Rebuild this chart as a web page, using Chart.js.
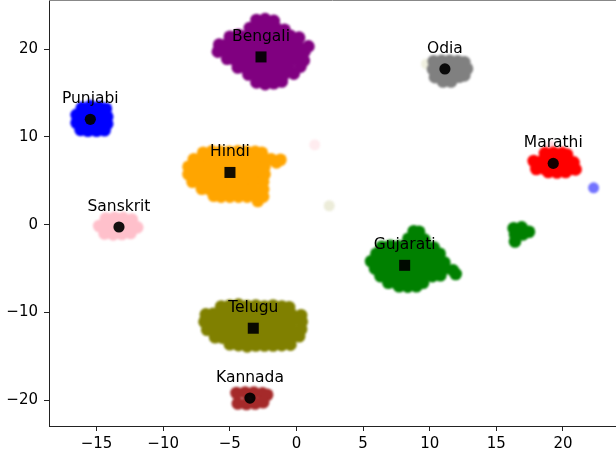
<!DOCTYPE html>
<html>
<head>
<meta charset="utf-8">
<script src="https://cdn.jsdelivr.net/npm/chart.js@4.4.1/dist/chart.umd.min.js"></script>
<style>
  html, body { margin: 0; padding: 0; background: #fff; overflow: hidden; }
  #wrap { width: 616px; height: 459px; }
</style>
</head>
<body>
<div id="wrap"><canvas id="c" width="616" height="459"></canvas></div>
<script>
// ---- axis ticks ----
const xTicks = [-15, -10, -5, 0, 5, 10, 15, 20];
const yTicks = [-20, -10, 0, 10, 20];

// ---- language centroids ----
const languages = ['Bengali', 'Punjabi', 'Hindi', 'Sanskrit', 'Odia', 'Marathi', 'Gujarati', 'Telugu', 'Kannada'];
const centroidX = [-2.66, -15.47, -4.99, -13.32, 11.14, 19.27, 8.12, -3.24, -3.49];
const centroidY = [19.1, 12.0, 5.95, -0.26, 17.73, 6.98, -4.62, -11.78, -19.73];

// ---- embedded sentences per language (2-D projection) ----
const bengaliPoints = [
  [-3.0, 23.3], [-2.35, 23.4], [-1.7, 23.2],
  [-3.5, 22.4], [-2.85, 22.4], [-2.2, 22.4], [-1.55, 22.4], [-0.9, 22.2],
  [-5.0, 21.4], [-4.35, 21.6], [-3.7, 21.5], [-3.05, 21.5], [-2.4, 21.5], [-1.75, 21.5], [-1.1, 21.5], [-0.45, 21.5], [0.2, 21.3],
  [-5.8, 20.5], [-5.15, 20.6], [-4.5, 20.6], [-3.85, 20.6], [-3.2, 20.6], [-2.55, 20.6], [-1.9, 20.6], [-1.25, 20.6], [-0.6, 20.6], [0.05, 20.6], [0.9, 20.3],
  [-5.9, 19.7], [-5.25, 19.7], [-4.6, 19.7], [-3.95, 19.7], [-3.3, 19.7], [-2.65, 19.7], [-2.0, 19.7], [-1.35, 19.7], [-0.7, 19.7], [-0.05, 19.7], [0.6, 19.7],
  [-5.2, 18.9], [-4.65, 18.8], [-4.0, 18.8], [-3.35, 18.8], [-2.7, 18.8], [-2.05, 18.8], [-1.4, 18.8], [-0.75, 18.8], [-0.1, 18.8], [0.55, 18.7],
  [-4.4, 17.9], [-3.85, 17.9], [-3.2, 17.9], [-2.55, 17.9], [-1.9, 17.9], [-1.25, 17.9], [-0.6, 17.9], [0.3, 18.0],
  [-3.6, 17.1], [-2.95, 17.0], [-2.3, 17.0], [-1.65, 17.0], [-1.0, 17.0], [-0.2, 17.2],
  [-3.0, 16.2], [-2.35, 16.0], [-1.7, 16.1], [-1.1, 16.3]
];
const punjabiPoints = [
  [-16.1, 13.3], [-15.45, 13.5], [-14.8, 13.4], [-14.3, 13.2],
  [-16.5, 12.5], [-15.85, 12.5], [-15.2, 12.5], [-14.55, 12.5], [-14.2, 12.3],
  [-16.5, 11.6], [-15.85, 11.6], [-15.2, 11.6], [-14.55, 11.6], [-14.2, 11.5],
  [-16.2, 10.8], [-15.65, 10.7], [-15.0, 10.7], [-14.4, 10.75]
];
const hindiPoints = [
  [-7.0, 8.2], [-6.35, 8.35], [-5.7, 8.3], [-5.05, 8.3], [-4.4, 8.35], [-3.75, 8.3], [-3.1, 8.3], [-2.6, 8.2],
  [-7.7, 7.45], [-7.15, 7.45], [-6.5, 7.45], [-5.85, 7.45], [-5.2, 7.45], [-4.55, 7.45], [-3.9, 7.45], [-3.25, 7.45], [-2.6, 7.45], [-1.9, 7.45], [-1.2, 7.4],
  [-8.1, 6.6], [-7.45, 6.6], [-6.8, 6.6], [-6.15, 6.6], [-5.5, 6.6], [-4.85, 6.6], [-4.2, 6.6], [-3.55, 6.6], [-2.9, 6.6], [-2.4, 6.6], [-1.5, 7.1],
  [-8.1, 5.75], [-7.45, 5.75], [-6.8, 5.75], [-6.15, 5.75], [-5.5, 5.75], [-4.85, 5.75], [-4.2, 5.75], [-3.55, 5.75], [-2.9, 5.75], [-2.4, 5.75],
  [-7.8, 4.9], [-7.15, 4.9], [-6.5, 4.9], [-5.85, 4.9], [-5.2, 4.9], [-4.55, 4.9], [-3.9, 4.9], [-3.25, 4.9], [-2.5, 4.9],
  [-7.1, 4.1], [-6.55, 4.05], [-5.9, 4.05], [-5.25, 4.05], [-4.6, 4.05], [-3.95, 4.05], [-3.3, 4.05], [-2.5, 4.05],
  [-6.2, 3.3], [-5.65, 3.2], [-5.0, 3.2], [-4.35, 3.2], [-3.7, 3.2], [-3.05, 3.2], [-2.5, 3.2],
  [-2.9, 2.7]
];
const sanskritPoints = [
  [-14.3, 0.7], [-13.65, 0.8], [-13.0, 0.75], [-12.35, 0.6],
  [-14.8, -0.15], [-14.15, -0.15], [-13.5, -0.15], [-12.85, -0.15], [-12.2, -0.15], [-11.95, -0.3],
  [-14.4, -1.0], [-13.75, -1.1], [-13.1, -1.05], [-12.45, -0.95]
];
const odiaPoints = [
  [10.3, 18.6], [10.9, 18.65], [11.5, 18.65], [12.1, 18.6], [12.6, 18.5],
  [10.25, 17.7], [10.9, 17.7], [11.5, 17.7], [12.1, 17.7], [12.8, 17.75],
  [10.4, 16.8], [11.0, 16.8], [11.6, 16.8], [12.2, 16.85], [12.6, 17.0],
  [11.0, 16.3], [11.6, 16.3]
];
const marathiPoints = [
  [18.65, 8.15], [19.3, 8.2], [19.95, 8.15], [20.3, 8.0],
  [17.8, 7.25], [18.45, 7.25], [19.1, 7.25], [19.75, 7.25], [20.4, 7.25], [20.8, 7.1],
  [18.0, 6.35], [18.65, 6.35], [19.3, 6.35], [19.95, 6.35], [20.6, 6.35], [20.95, 6.3],
  [18.9, 6.0], [19.55, 5.95], [20.2, 6.0]
];
const gujaratiPoints = [
  [8.8, -0.75], [9.2, -0.8],
  [8.4, -1.6], [9.05, -1.6], [9.6, -1.7],
  [6.4, -2.5], [7.05, -2.4], [7.7, -2.45], [8.35, -2.45], [9.0, -2.45], [9.65, -2.45], [10.3, -2.6],
  [6.0, -3.3], [6.6, -3.3], [7.2, -3.3], [7.8, -3.3], [8.4, -3.3], [9.0, -3.3], [9.6, -3.3], [10.25, -3.3], [10.75, -3.3],
  [5.6, -4.15], [6.25, -4.15], [6.9, -4.15], [7.55, -4.15], [8.2, -4.15], [8.85, -4.15], [9.5, -4.15], [10.15, -4.15], [10.8, -4.15], [11.1, -4.3],
  [5.9, -5.0], [6.55, -5.0], [7.2, -5.0], [7.85, -5.0], [8.5, -5.0], [9.15, -5.0], [9.8, -5.0], [10.45, -5.0], [11.1, -5.0], [11.75, -5.2],
  [6.3, -5.85], [6.95, -5.85], [7.6, -5.85], [8.25, -5.85], [8.9, -5.85], [9.55, -5.85], [10.2, -5.85], [10.8, -5.75], [11.95, -5.6],
  [6.9, -6.6], [7.55, -6.7], [8.2, -6.7], [8.85, -6.7], [9.5, -6.6],
  [7.7, -7.0], [8.35, -7.05], [9.0, -7.0],
  [16.3, -0.4], [16.9, -0.3], [17.45, -0.8], [16.4, -1.1], [17.0, -1.1], [16.4, -1.9]
];
const teluguPoints = [
  [-5.65, -9.3], [-5.0, -9.2], [-4.35, -9.1], [-3.7, -9.25], [-3.05, -9.2], [-2.4, -9.3], [-1.75, -9.2], [-1.1, -9.3], [-0.55, -9.4],
  [-6.8, -10.2], [-6.25, -10.15], [-5.6, -10.15], [-4.95, -10.15], [-4.3, -10.15], [-3.65, -10.15], [-3.0, -10.15], [-2.35, -10.15], [-1.7, -10.15], [-1.05, -10.15], [-0.4, -10.15], [0.35, -10.3],
  [-6.9, -11.05], [-6.25, -11.05], [-5.6, -11.05], [-4.95, -11.05], [-4.3, -11.05], [-3.65, -11.05], [-3.0, -11.05], [-2.35, -11.05], [-1.7, -11.05], [-1.05, -11.05], [-0.4, -11.05], [0.4, -11.05],
  [-6.7, -11.95], [-6.15, -11.95], [-5.5, -11.95], [-4.85, -11.95], [-4.2, -11.95], [-3.55, -11.95], [-2.9, -11.95], [-2.25, -11.95], [-1.6, -11.95], [-0.95, -11.95], [-0.3, -11.95], [0.35, -11.9],
  [-6.1, -12.8], [-5.55, -12.85], [-4.9, -12.85], [-4.25, -12.85], [-3.6, -12.85], [-2.95, -12.85], [-2.3, -12.85], [-1.65, -12.85], [-1.0, -12.85], [-0.35, -12.85], [0.2, -12.7],
  [-5.0, -13.6], [-4.35, -13.7], [-3.7, -13.85], [-3.05, -13.75], [-2.4, -13.75], [-1.75, -13.75], [-1.1, -13.7], [-0.45, -13.65]
];
const kannadaPoints = [
  [-4.5, -19.15], [-3.85, -19.1], [-3.2, -19.1], [-2.55, -19.2], [-2.2, -19.35],
  [-4.4, -20.35], [-3.75, -20.4], [-3.1, -20.35], [-2.5, -20.2]
];
// isolated sentences lying away from their language group
const strayPoints = [[22.3, 4.2], [1.37, 9.1], [2.46, 2.16], [9.75, 18.3], [19.1, 8.9]];

// ---- styling ----
const FONT = 'DejaVu Sans';
const INK = '#222222';
const palette = {
  Bengali: [128, 0, 128], Punjabi: [0, 0, 255], Hindi: [255, 165, 0], Sanskrit: [255, 192, 203],
  Odia: [128, 128, 128], Marathi: [255, 0, 0], Gujarati: [0, 128, 0], Telugu: [128, 128, 0], Kannada: [165, 42, 42]
};
const rgba = (c, a) => `rgba(${c[0]},${c[1]},${c[2]},${a})`;
const strayColors = [rgba(palette.Punjabi, 0.55), rgba(palette.Sanskrit, 0.3), rgba(palette.Telugu, 0.15),
                     rgba(palette.Telugu, 0.12), rgba(palette.Sanskrit, 0.6)];
const squareCentroid = new Set(['Bengali', 'Hindi', 'Gujarati', 'Telugu']);

const toXY = arr => arr.map(p => ({ x: p[0], y: p[1] }));
const groups = {
  Bengali: bengaliPoints, Punjabi: punjabiPoints, Hindi: hindiPoints, Sanskrit: sanskritPoints,
  Odia: odiaPoints, Marathi: marathiPoints, Gujarati: gujaratiPoints, Telugu: teluguPoints, Kannada: kannadaPoints
};

// index 0: centroid markers (drawn last, on top); 1..9: sentence clouds; 10: stray sentences
const datasets = [];
datasets.push({
  label: 'centroids',
  data: languages.map((l, i) => ({ x: centroidX[i], y: centroidY[i] })),
  pointStyle: languages.map(l => squareCentroid.has(l) ? 'rect' : 'circle'),
  pointRadius: languages.map(l => squareCentroid.has(l) ? 7.8 : 5.6),
  backgroundColor: 'rgba(0,0,0,0.92)',
  borderWidth: 0,
  order: 0
});
languages.forEach(l => {
  datasets.push({
    label: l,
    data: toXY(groups[l]),
    pointRadius: 6.3,
    backgroundColor: rgba(palette[l], 1),
    borderWidth: 0,
    order: 1
  });
});
datasets.push({
  label: 'stray',
  data: toXY(strayPoints),
  pointRadius: 5.5,
  backgroundColor: strayColors,
  borderWidth: 0,
  order: 1
});

const fmt = v => (v < 0 ? '\u2212' + Math.abs(v) : String(v));

// once all clouds are painted, soften them together (inside the plot area only)
const softPlugin = {
  id: 'soft',
  afterDatasetDraw(chart, args) {
    if (args.index !== 1) return;
    const { ctx, chartArea: a } = chart;
    const left = Math.ceil(a.left) + 2, top = Math.ceil(a.top) + 2;
    const w = Math.floor(a.right) - 2 - left, h = Math.floor(a.bottom) - 2 - top;
    const tmp = document.createElement('canvas');
    tmp.width = w; tmp.height = h;
    tmp.getContext('2d').drawImage(ctx.canvas, left, top, w, h, 0, 0, w, h);
    ctx.save();
    ctx.setTransform(1, 0, 0, 1, 0, 0);
    ctx.clearRect(left, top, w, h);
    ctx.filter = 'blur(1.3px)';
    ctx.drawImage(tmp, left, top);
    ctx.restore();
  }
};

// language names above each centroid, and the top frame line
const labelPlugin = {
  id: 'names',
  afterDatasetsDraw(chart) {
    const { ctx, scales: { x, y }, chartArea } = chart;
    ctx.save();
    ctx.strokeStyle = '#888';
    ctx.lineWidth = 1;
    ctx.beginPath();
    ctx.moveTo(chartArea.left, chartArea.top + 0.5);
    ctx.lineTo(chartArea.right, chartArea.top + 0.5);
    ctx.stroke();
    ctx.fillStyle = '#000';
    ctx.font = `15.5px "${FONT}"`;
    ctx.textAlign = 'center';
    ctx.textBaseline = 'alphabetic';
    languages.forEach((l, i) => {
      ctx.fillText(l, x.getPixelForValue(centroidX[i]), y.getPixelForValue(centroidY[i]) - 16);
    });
    ctx.restore();
  }
};

Chart.defaults.font.family = FONT;

new Chart(document.getElementById('c'), {
  type: 'scatter',
  data: { datasets },
  options: {
    responsive: false,
    devicePixelRatio: 1,
    animation: false,
    layout: { padding: 0, autoPadding: false },
    plugins: { legend: { display: false }, tooltip: { enabled: false } },
    scales: {
      x: {
        type: 'linear',
        min: -18.57,
        max: 23.98,
        afterBuildTicks: s => { s.ticks = xTicks.map(v => ({ value: v })); },
        afterFit: s => { s.height = 33; s.paddingLeft = 0; s.paddingRight = 0; },
        ticks: { callback: v => fmt(v), color: '#000', font: { size: 15 }, padding: 4, maxRotation: 0 },
        grid: { drawOnChartArea: false, tickLength: 5, tickColor: INK, tickWidth: 1 },
        border: { color: INK, width: 1 }
      },
      y: {
        type: 'linear',
        min: -22.91,
        max: 25.58,
        afterBuildTicks: s => { s.ticks = yTicks.map(v => ({ value: v })); },
        afterFit: s => { s.width = 49; s.paddingTop = 0; s.paddingBottom = 0; },
        ticks: { callback: v => fmt(v), color: '#000', font: { size: 15 }, padding: 6 },
        grid: { drawOnChartArea: false, tickLength: 5, tickColor: INK, tickWidth: 1 },
        border: { color: INK, width: 1 }
      }
    }
  },
  plugins: [softPlugin, labelPlugin]
});
</script>
</body>
</html>
